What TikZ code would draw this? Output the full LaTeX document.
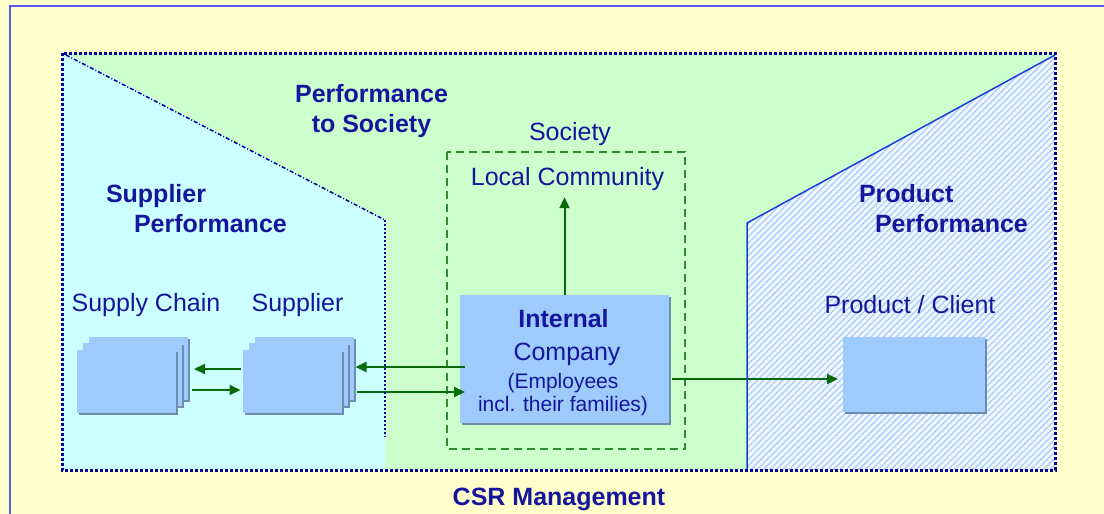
\documentclass[tikz,border=0pt]{standalone}
\usepackage{fontspec}
\setmainfont{Liberation Sans}
\usetikzlibrary{arrows.meta,patterns.meta,shadows,calc}
\definecolor{bgyellow}{HTML}{FFFFCC}
\definecolor{outerblue}{HTML}{5A5AF0}
\definecolor{societygreen}{HTML}{CCFFCC}
\definecolor{suppcyan}{HTML}{CCFFFF}
\definecolor{hatchbg}{HTML}{F2F7FF}
\definecolor{hatchline}{HTML}{A9CDFF}
\definecolor{boxblue}{HTML}{9DCBFB}
\definecolor{boxshadow}{HTML}{6F8CB0}
\definecolor{textblue}{HTML}{16169C}
\definecolor{borderblue}{HTML}{00009A}
\definecolor{edgeblue}{HTML}{1A3FD9}
\definecolor{arrowgreen}{HTML}{0A6A0A}
\definecolor{dashgreen}{HTML}{2E8B2E}
\tikzset{
  fbox/.style={fill=boxblue, draw=none, outer sep=0pt, inner sep=0pt,
    drop shadow={shadow xshift=2pt, shadow yshift=-2pt, fill=boxshadow, opacity=1}},
  txt/.style={text=textblue, inner sep=0pt, outer sep=0pt, font=\fontsize{25}{30}\selectfont},
  smalltxt/.style={text=textblue, inner sep=0pt, outer sep=0pt, font=\fontsize{21}{24}\selectfont},
  head/.style={text=textblue, inner sep=0pt, outer sep=0pt, font=\bfseries\fontsize{25}{30}\selectfont},
  arr/.style={draw=arrowgreen, line width=2pt, -{Triangle[length=11pt,width=10pt]}},
  mainborder/.style={draw=borderblue, line width=3pt, dash pattern=on 3pt off 2pt},
}
\begin{document}
\begin{tikzpicture}[x=1pt,y=-1pt]
\useasboundingbox (0,0) rectangle (1104,514);
% background and outer frame
\fill[bgyellow] (0,0) rectangle (1104,514);
\draw[outerblue, line width=2pt] (10,520) -- (10,6) -- (1110,6);
% regions
\fill[societygreen] (62,53) rectangle (1055,470);
\fill[suppcyan] (62,53) -- (66,53) -- (385,220) -- (385,470) -- (62,470) -- cycle;
\fill[hatchbg] (747,470) -- (747,223) -- (1055,55) -- (1055,470) -- cycle;
\pattern[pattern={Lines[angle=45,distance=4.5pt,line width=1.3pt]}, pattern color=hatchline]
  (747,470) -- (747,223) -- (1055,55) -- (1055,470) -- cycle;
% society dashed box
\draw[dashgreen, line width=1.6pt, dash pattern=on 8pt off 5pt] (447,152) rectangle (685,449);
% boxes
\node[fbox, minimum width=99pt, minimum height=63pt] (sc3) at (138.5,368.5) {};
\node[fbox, minimum width=99pt, minimum height=63pt] (sc2) at (132.5,374.5) {};
\node[fbox, minimum width=99pt, minimum height=63pt] (sc1) at (126.5,381.5) {};
\node[fbox, minimum width=99pt, minimum height=63pt] (sup3) at (304,368.5) {};
\node[fbox, minimum width=99pt, minimum height=63pt] (sup2) at (298,374.5) {};
\node[fbox, minimum width=99pt, minimum height=63pt] (sup1) at (292,381.5) {};
\node[fbox, minimum width=209pt, minimum height=128pt] (ib) at (564.5,359) {};
\node[fbox, minimum width=142pt, minimum height=75pt] (prod) at (914,374.5) {};
% texts
\node[head, align=center] (pts) at (371.5,111.5) {Performance\\to Society};
\node[head, align=left, anchor=west] (spp) at (106,208.9) {Supplier\\\hspace*{28pt}Performance};
\node[head, align=left, anchor=west] (ppp) at (859,208.9) {Product\\\hspace*{16pt}Performance};
\node[txt, anchor=base] (soc) at (570,140) {Society};
\node[txt, anchor=base] (lc) at (567.5,185) {Local Community};
\node[txt, anchor=base] (scl) at (146,311) {Supply Chain};
\node[txt, anchor=base] (supl) at (297.5,311) {Supplier};
\node[txt, anchor=base] (pcl) at (910,313) {Product / Client};
\node[head, anchor=base] (it1) at (563.5,327) {Internal};
\node[txt, anchor=base] (it2) at (567,360) {Company};
\node[smalltxt, anchor=base] (it3) at (563,388) {(Employees};
\node[smalltxt, anchor=base] (it4) at (563,411) {incl. their families)};
\node[head, anchor=base] (csr) at (559,505) {CSR Management};
% arrows
\coordinate (u1) at ([xshift=-2pt,yshift=12.5pt]sup1.west);
\coordinate (l1) at ([xshift=-2pt,yshift=-8.5pt]sup1.west);
\draw[arr] (u1) -- ($(u1 -| sc3.east)+(6,0)$);
\draw[arr] ($(l1 -| sc3.east)+(4,0)$) -- (l1);
\coordinate (u2) at ([xshift=5pt,yshift=-8pt]ib.west);
\coordinate (l2) at ([xshift=5pt,yshift=-33pt]ib.west);
\draw[arr] (u2) -- ($(u2 -| sup3.east)+(2,0)$);
\draw[arr] ($(l2 -| sup3.east)+(3,0)$) -- (l2);
\draw[arr, shorten >=7pt] (ib.north) -- (ib.north |- lc.south);
\coordinate (r1) at ([xshift=3pt,yshift=-20pt]ib.east);
\draw[arr] (r1) -- ($(r1 -| prod.west)+(-5,0)$);
% borders
\draw[edgeblue, line width=1.5pt] (747,470) -- (747,223) -- (1055,55);
\draw[borderblue, line width=1.5pt, dash pattern=on 4pt off 2pt on 1pt off 2pt] (66,55) -- (385,220);
\draw[borderblue, line width=1.8pt, dash pattern=on 2pt off 2pt] (385,220) -- (385,437);
\draw[mainborder] (62,53) rectangle (1055,470);
\end{tikzpicture}
\end{document}
